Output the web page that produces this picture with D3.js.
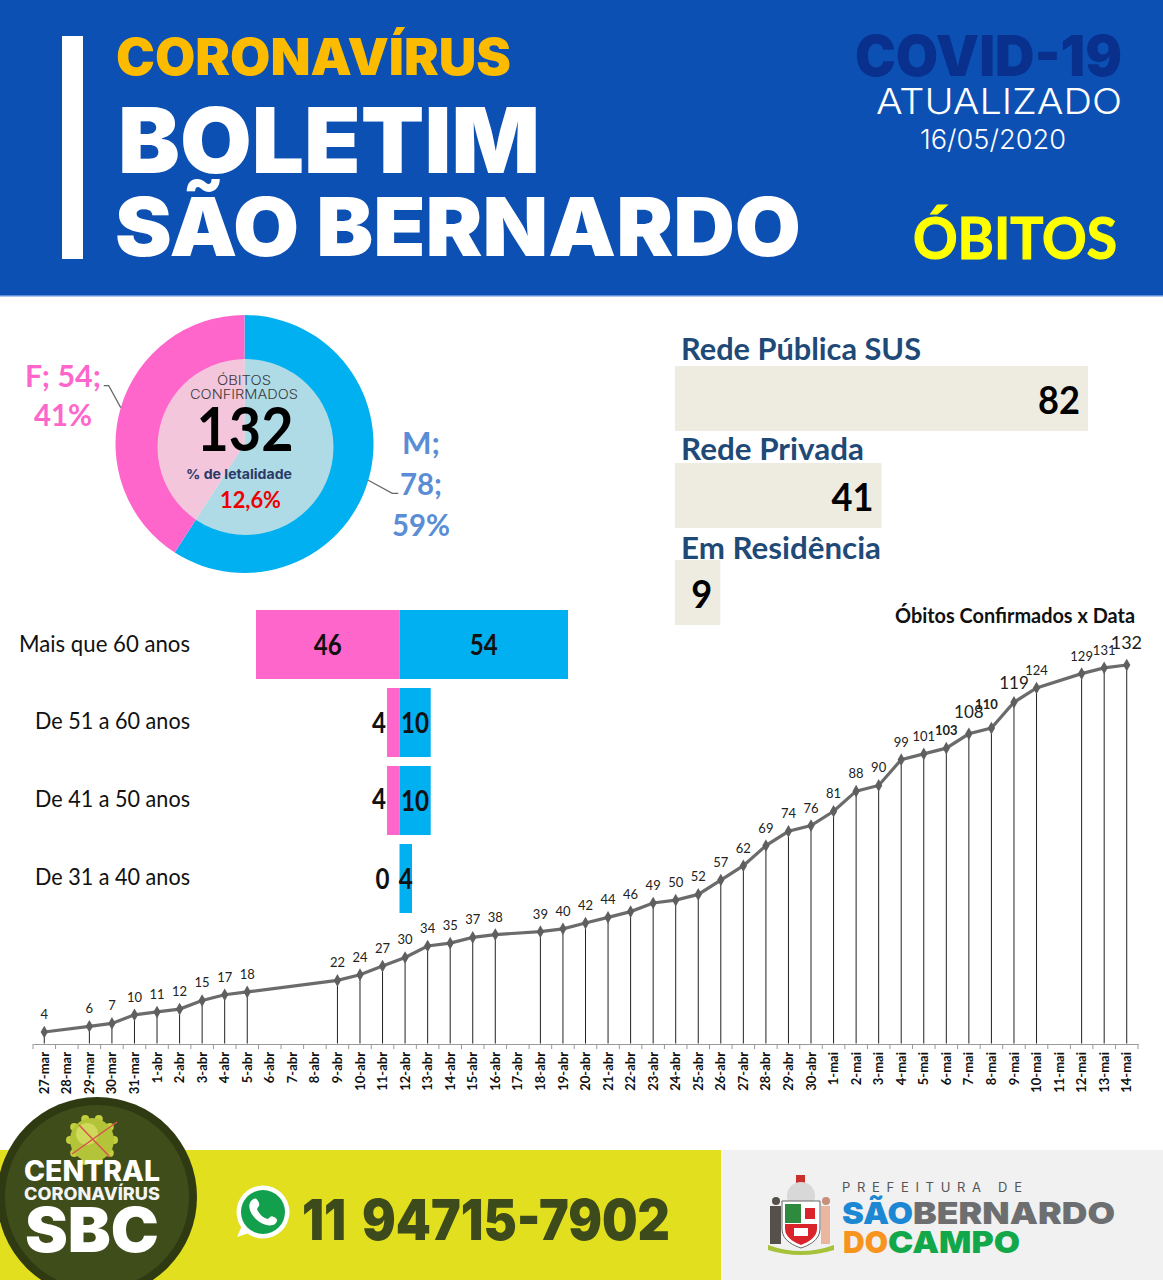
<!DOCTYPE html>
<html>
<head>
<meta charset="utf-8">
<title>Boletim São Bernardo - Óbitos</title>
<script src="https://cdn.jsdelivr.net/npm/d3@7"></script>
<style>
  html, body { margin: 0; padding: 0; background: #fff; }
  svg { display: block; }
</style>
</head>
<body>
<div id="chart"></div>
<script>
// dados do boletim 16/05/2020
var dates = ["27-mar","28-mar","29-mar","30-mar","31-mar","1-abr","2-abr","3-abr","4-abr","5-abr","6-abr","7-abr","8-abr","9-abr","10-abr","11-abr","12-abr","13-abr","14-abr","15-abr","16-abr","17-abr","18-abr","19-abr","20-abr","21-abr","22-abr","23-abr","24-abr","25-abr","26-abr","27-abr","28-abr","29-abr","30-abr","1-mai","2-mai","3-mai","4-mai","5-mai","6-mai","7-mai","8-mai","9-mai","10-mai","11-mai","12-mai","13-mai","14-mai"];
var deaths = [4,null,6,7,10,11,12,15,17,18,null,null,null,22,24,27,30,34,35,37,38,null,39,40,42,44,46,49,50,52,57,62,69,74,76,81,88,90,99,101,103,108,110,119,124,null,129,131,132];
var bigLabels = [108,119,132];
var boldLabels = [103,110];

var sexNames = ["M","F"];
var sexValues = [78,54];
var sexPercents = ["59%","41%"];

var ageGroups = ["Mais que 60 anos","De 51 a 60 anos","De 41 a 50 anos","De 31 a 40 anos"];
var ageFemale = [46,4,4,0];
var ageMale = [54,10,10,4];

var networkNames = ["Rede Pública SUS","Rede Privada","Em Residência"];
var networkValues = [82,41,9];

var colorPink = "#ff66cc";
var colorBlue = "#00b0f0";
var colorBanner = "#0d50b4";
var colorOlive = "#3d4a1b";
var textFont = "Lato, 'Open Sans', sans-serif";
var headFont = "Inter, Lato, sans-serif";

var svg = d3.select("#chart").append("svg")
    .attr("width", 1163)
    .attr("height", 1280)
    .attr("viewBox", "0 0 1163 1280");

// texto com largura fixa quando w for informado
function addText(parent, str, x, y, size, weight, fill, font, w, anchor) {
    var t = parent.append("text")
        .attr("x", x)
        .attr("y", y)
        .attr("font-size", size)
        .attr("font-weight", weight)
        .attr("font-family", font || textFont)
        .attr("fill", fill)
        .attr("text-anchor", anchor || "start")
        .text(str);
    if (w) t.attr("textLength", w).attr("lengthAdjust", "spacingAndGlyphs");
    return t;
}

// ---------- faixa do topo
var head = svg.append("g");
head.append("rect").attr("width", 1163).attr("height", 296).attr("fill", colorBanner);
head.append("rect").attr("y", 295).attr("width", 1163).attr("height", 1.5).attr("fill", "#5b8fdc");
head.append("rect").attr("x", 62).attr("y", 36).attr("width", 21).attr("height", 223).attr("fill", "#fff");
addText(head, "CORONAVÍRUS", 116, 75, 51, 900, "#fdbb00", headFont, 395);
addText(head, "BOLETIM", 118, 173, 91, 900, "#fff", headFont, 422);
addText(head, "SÃO BERNARDO", 115, 256, 81, 900, "#fff", headFont, 686);
addText(head, "COVID-19", 855, 76, 56, 900, "#08308c", headFont, 267);
addText(head, "ATUALIZADO", 876, 114, 36, 300, "#fff", headFont, 246);
addText(head, "16/05/2020", 920, 149, 27, 300, "#fff", headFont, 146);
addText(head, "ÓBITOS", 913, 259, 57, 700, "#ffff00", textFont, 204)
    .attr("stroke", "#ffff00")
    .attr("stroke-width", 1.2);

// ---------- rosca por sexo
var pieCx = 244.5, pieCy = 444, pieR = 129;
var pieG = svg.append("g").attr("transform", "translate(" + pieCx + "," + pieCy + ")");
var sexData = sexNames.map(function(n, i) { return {name: n, value: sexValues[i], pct: sexPercents[i]}; });
var pie = d3.pie().sort(null).value(function(d) { return d.value; });
var arc = d3.arc().innerRadius(0).outerRadius(pieR);
var slices = pie(sexData);

pieG.selectAll("path.slice").data(slices).enter().append("path")
    .attr("class", "slice")
    .attr("d", arc)
    .attr("fill", function(d, i) { return i == 0 ? colorBlue : colorPink; });

// linhas de chamada saem do meio de cada fatia
slices.forEach(function(d, i) {
    var mid = (d.startAngle + d.endAngle) / 2;
    var px = Math.sin(mid) * pieR, py = -Math.cos(mid) * pieR;
    var pts = i == 0
        ? [[px, py], [px + 24, py + 13], [px + 30, py + 13]]
        : [[px, py], [px - 12, py - 22], [px - 17, py - 22]];
    pieG.append("path")
        .attr("d", d3.line()(pts))
        .attr("fill", "none")
        .attr("stroke", "#666")
        .attr("stroke-width", 1.2);
});

svg.append("circle")
    .attr("cx", 245.5)
    .attr("cy", 447)
    .attr("r", 88)
    .attr("fill", "rgb(238,234,226)")
    .attr("opacity", 0.73);

addText(svg, "ÓBITOS", 244, 384.5, 13, 300, "#3a3a3a", headFont, 54, "middle");
addText(svg, "CONFIRMADOS", 244, 399, 13, 300, "#3a3a3a", headFont, 108, "middle");
addText(svg, d3.sum(sexValues), 245, 451, 61, 700, "#000", textFont, 97, "middle");
addText(svg, "% de letalidade", 239, 479, 13.5, 700, "#2b3a67", headFont, 106, "middle");
addText(svg, "12,6%", 250.5, 508, 22, 700, "#ee0000", textFont, 61, "middle");

var pinkText = "#ff66cc", blueText = "#5b8dd6";
addText(svg, "F; " + sexValues[1] + ";", 63, 387, 31, 700, pinkText, textFont, 76, "middle");
addText(svg, sexPercents[1], 63, 426, 31, 700, pinkText, textFont, 58, "middle");
addText(svg, "M;", 421, 454, 31, 700, blueText, textFont, 38, "middle");
addText(svg, sexValues[0] + ";", 421, 495, 31, 700, blueText, textFont, 42, "middle");
addText(svg, sexPercents[0], 421, 536, 31, 700, blueText, textFont, 58, "middle");

// ---------- barras por rede
var netX = d3.scaleLinear().domain([0, 82]).range([675, 1088]);
var netTop = [366, 463, 560];
var netTitle = [360, 460, 559];
var netBase = [414, 511, 608];

svg.selectAll("rect.net").data(networkValues).enter().append("rect")
    .attr("class", "net")
    .attr("x", netX(0))
    .attr("y", function(d, i) { return netTop[i]; })
    .attr("width", function(d) { return netX(d) - netX(0); })
    .attr("height", 65)
    .attr("fill", "#eeebe1");

networkValues.forEach(function(v, i) {
    addText(svg, networkNames[i], 681, netTitle[i], 30, 700, "#1f4a78", textFont, [240, 183, 200][i]);
    addText(svg, v, netX(v) - 8, netBase[i], 39, 700, "#000", textFont, String(v).length * 21, "end");
});

// ---------- piramide por idade
var ageY = d3.scaleBand().domain(ageGroups).range([605.5, 917.5]).paddingInner(0.115).paddingOuter(0.0575);
var ageX = d3.scaleLinear().domain([-46, 54]).range([256, 568]);

svg.selectAll("rect.fem").data(ageFemale).enter().append("rect")
    .attr("class", "fem")
    .attr("x", function(d) { return ageX(-d); })
    .attr("y", function(d, i) { return ageY(ageGroups[i]); })
    .attr("width", function(d) { return ageX(0) - ageX(-d); })
    .attr("height", ageY.bandwidth())
    .attr("fill", colorPink);

svg.selectAll("rect.mal").data(ageMale).enter().append("rect")
    .attr("class", "mal")
    .attr("x", ageX(0))
    .attr("y", function(d, i) { return ageY(ageGroups[i]); })
    .attr("width", function(d) { return ageX(d) - ageX(0); })
    .attr("height", ageY.bandwidth())
    .attr("fill", colorBlue);

ageGroups.forEach(function(g, i) {
    var base = ageY(g) + ageY.bandwidth() / 2 + 10;
    addText(svg, g, 190, base - 3.5 + (i == 0 ? 0.5 : 0), 23, 400, "#111", textFont, i == 0 ? 171 : 155, "end");
    var f = ageFemale[i], m = ageMale[i];
    var digW = function(v) { return String(v).length * 14; };
    if (f > 10) addText(svg, f, ageX(-f / 2), base, 29, 700, "#111", textFont, digW(f), "middle");
    else addText(svg, f, ageX(-f) - 1 - (f == 0 ? 9 : 0), base - (i == 2 ? 2 : 0), 29, 700, "#111", textFont, digW(f), "end");
    addText(svg, m, ageX(m / 2), base, 29, 700, "#111", textFont, digW(m), "middle");
});

// ---------- curva acumulada
var x = d3.scaleBand().domain(dates).range([33, 1138]);
var y = d3.scaleLinear().domain([0, 132]).range([1043.5, 665]);
var points = dates.map(function(d, i) { return {date: d, value: deaths[i]}; })
    .filter(function(d) { return d.value !== null; });
var cx = function(d) { return x(d.date) + x.bandwidth() / 2; };

addText(svg, "Óbitos Confirmados x Data", 895, 623, 20, 700, "#111", textFont, 240);

var axis = svg.append("g")
    .attr("transform", "translate(0,1044)")
    .call(d3.axisBottom(x).tickSize(0).tickPadding(0));
axis.select(".domain").attr("stroke", "#999").attr("stroke-width", 1);
axis.selectAll(".tick text")
    .attr("transform", "rotate(-90)")
    .attr("x", -8)
    .attr("y", 0)
    .attr("dy", "0.35em")
    .attr("text-anchor", "end")
    .attr("font-size", 13)
    .attr("font-weight", 700)
    .attr("font-family", textFont)
    .attr("fill", "#111");

// marcas ficam entre as categorias
axis.selectAll("line.sep").data(dates.concat(["fim"])).enter().append("line")
    .attr("class", "sep")
    .attr("x1", function(d) { return d == "fim" ? x.range()[1] : x(d); })
    .attr("x2", function(d) { return d == "fim" ? x.range()[1] : x(d); })
    .attr("y1", 0)
    .attr("y2", 5)
    .attr("stroke", "#999");

svg.selectAll("line.drop").data(points).enter().append("line")
    .attr("class", "drop")
    .attr("x1", cx)
    .attr("x2", cx)
    .attr("y1", function(d) { return y(d.value); })
    .attr("y2", y(0))
    .attr("stroke", "#222")
    .attr("stroke-width", 1);

svg.append("path")
    .datum(points)
    .attr("fill", "none")
    .attr("stroke", "#6b6b6b")
    .attr("stroke-width", 3.2)
    .attr("d", d3.line().x(cx).y(function(d) { return y(d.value); }));

svg.selectAll("path.mark").data(points).enter().append("path")
    .attr("class", "mark")
    .attr("d", d3.symbol().type(d3.symbolDiamond).size(46))
    .attr("fill", "#5f5f5f")
    .attr("transform", function(d) { return "translate(" + cx(d) + "," + y(d.value) + ")"; });

svg.selectAll("text.val").data(points).enter().append("text")
    .attr("class", "val")
    .attr("x", function(d) { return cx(d) + (d.value == 110 ? -5 : 0); })
    .attr("y", function(d) {
        if (d.value == 119) return y(d.value) - 13;
        if (d.value == 110) return y(d.value) - 19;
        return y(d.value) - (bigLabels.indexOf(d.value) >= 0 ? 16 : 13);
    })
    .attr("text-anchor", function(d) { return d.value == 132 ? "start" : "middle"; })
    .attr("dx", function(d) { return d.value == 132 ? -16 : 0; })
    .attr("font-family", textFont)
    .attr("font-size", function(d) { return d.value == 132 ? 18 : bigLabels.indexOf(d.value) >= 0 ? 17 : 13; })
    .attr("font-weight", function(d) { return boldLabels.indexOf(d.value) >= 0 ? 700 : 400; })
    .attr("fill", "#222")
    .text(function(d) { return d.value; });

// ---------- rodape
var foot = svg.append("g");
foot.append("rect").attr("y", 1150).attr("width", 721).attr("height", 130).attr("fill", "#e2df1e");
foot.append("rect").attr("x", 721).attr("y", 1150).attr("width", 442).attr("height", 130).attr("fill", "#f1f1f1");

foot.append("circle").attr("cx", 97).attr("cy", 1197).attr("r", 100).attr("fill", "#2f3a12");
foot.append("circle").attr("cx", 97).attr("cy", 1197).attr("r", 92).attr("fill", "#3f4d1b");

// virus
var virus = foot.append("g").attr("transform", "translate(92,1140)");
d3.range(10).forEach(function(i) {
    var a = i / 10 * 2 * Math.PI;
    virus.append("circle").attr("cx", Math.cos(a) * 22).attr("cy", Math.sin(a) * 22).attr("r", 4).attr("fill", "#c3cf3c");
});
virus.append("circle").attr("r", 22).attr("fill", "#b4c438");
virus.append("circle").attr("cx", -5).attr("cy", -6).attr("r", 11).attr("fill", "#cfd95a");
[[-13, -15, 18, 17], [25, -18, -20, 14]].forEach(function(c) {
    virus.append("line").attr("x1", c[0]).attr("y1", c[1]).attr("x2", c[2]).attr("y2", c[3])
        .attr("stroke", "#d9534f").attr("stroke-width", 1.5);
});

addText(foot, "CENTRAL", 24, 1181, 28, 800, "#fff", headFont, 136);
addText(foot, "CORONAVÍRUS", 24, 1200, 17, 800, "#f4f4f4", headFont, 136);
addText(foot, "SBC", 25, 1252, 62, 900, "#fff", headFont, 134);

// whatsapp
var wa = foot.append("g").attr("transform", "translate(263,1212)");
wa.append("path").attr("d", "M-26,25 L-19,9 L-8,19 Z").attr("fill", "#fff");
wa.append("circle").attr("r", 26.5).attr("fill", "#fff");
wa.append("circle").attr("r", 22).attr("fill", "#12a04c");
wa.append("path")
    .attr("d", "M-12,-11 C-8,-15 -6,-14 -4,-9 C-3,-6 -5,-5 -6,-3 C-4,2 0,6 5,7 C7,5 8,3 11,5 C15,7 15,9 12,12 C6,16 -4,11 -9,5 C-14,-1 -15,-7 -12,-11 Z")
    .attr("fill", "#fff");

addText(foot, "11", 302, 1240, 56, 900, colorOlive, headFont, 44);
addText(foot, "94715-7902", 362, 1240, 56, 900, colorOlive, headFont, 308);

// brasao
var crest = foot.append("g").attr("transform", "translate(801,1215)");
crest.append("rect").attr("x", -5).attr("y", -40).attr("width", 9).attr("height", 10).attr("fill", "#c9302c");
crest.append("circle").attr("cy", -19).attr("r", 14).attr("fill", "#d8d8d8");
crest.append("circle").attr("cx", -25).attr("cy", -14).attr("r", 4).attr("fill", "#55504a");
crest.append("circle").attr("cx", 25).attr("cy", -14).attr("r", 4).attr("fill", "#c98f7a");
crest.append("rect").attr("x", -31).attr("y", -9).attr("width", 11).attr("height", 38).attr("fill", "#55504a");
crest.append("rect").attr("x", 20).attr("y", -9).attr("width", 9).attr("height", 38).attr("fill", "#eab6a0");
crest.append("path").attr("d", "M-19,-14 H19 V14 C19,26 6,31 0,33 C-6,31 -19,26 -19,14 Z").attr("fill", "#fff").attr("stroke", "#666");
crest.append("rect").attr("x", -16).attr("y", -11).attr("width", 16).attr("height", 19).attr("fill", "#2e8b3d");
crest.append("rect").attr("x", 4).attr("y", -7).attr("width", 10).attr("height", 11).attr("fill", "#d9242b");
crest.append("path").attr("d", "M-16,9 H16 V14 C16,23 5,28 0,30 C-5,28 -16,23 -16,14 Z").attr("fill", "#d9242b");
crest.append("rect").attr("x", -7).attr("y", 13).attr("width", 14).attr("height", 8).attr("fill", "#fff");
crest.append("path").attr("d", "M-33,30 Q0,42 33,30 L33,35 Q0,45 -33,35 Z").attr("fill", "#a6c23a");

addText(foot, "PREFEITURA DE", 842, 1192, 13, 400, "#555", headFont)
    .attr("textLength", 180)
    .attr("lengthAdjust", "spacing");
addText(foot, "SÃO", 842, 1224, 30, 900, "#1c87d3", headFont, 71);
addText(foot, "BERNARDO", 913, 1224, 30, 900, "#6d6e70", headFont, 202);
addText(foot, "DO", 843, 1253, 30, 900, "#f7941d", headFont, 45);
addText(foot, "CAMPO", 888, 1253, 30, 900, "#12a84a", headFont, 132);
</script>
</body>
</html>
